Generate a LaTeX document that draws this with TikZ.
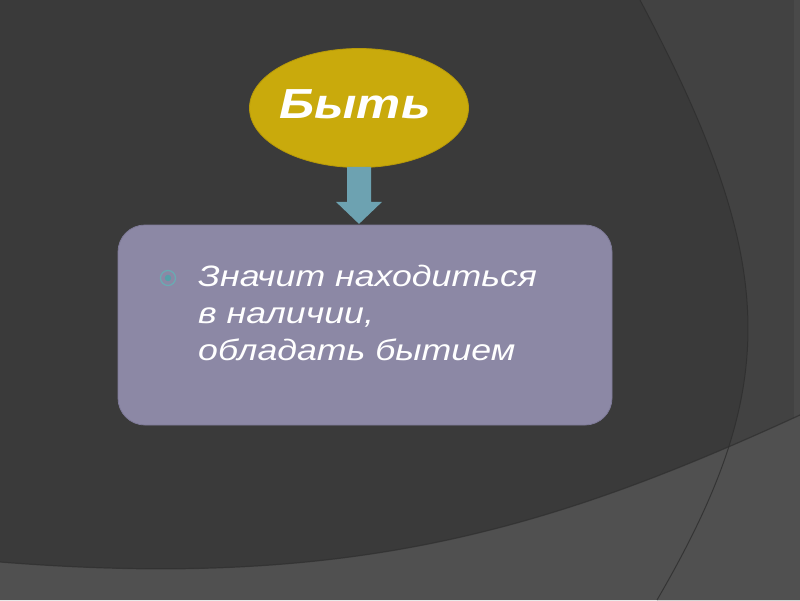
\documentclass[tikz,border=0pt]{standalone}
\usepackage{fontspec}
\newfontfamily\lsans{Liberation Sans}
\usetikzlibrary{shapes.geometric}
\definecolor{bgbase}{HTML}{3A3A3A}
\definecolor{bgright}{HTML}{424242}
\definecolor{bgband}{HTML}{505050}
\definecolor{bgline}{HTML}{2E2E2E}
\definecolor{goldfill}{HTML}{C9AA0C}
\definecolor{golddraw}{HTML}{B89A08}
\definecolor{boxfill}{HTML}{8C88A5}
\definecolor{boxdraw}{HTML}{7E7A98}
\definecolor{arrowfill}{HTML}{6DA2B1}
\definecolor{bulletring}{HTML}{6AAAB2}
\definecolor{bulletdotcol}{HTML}{55A0A8}
\tikzset{
  titlefont/.style={font=\lsans\bfseries\itshape\fontsize{42}{50}\selectfont, text=white},
  bodyfont/.style={font=\lsans\itshape\fontsize{29.5}{36}\selectfont, text=white},
  bodyline/.style={bodyfont, anchor=base west, inner sep=0pt},
}
\newcommand{\widetext}[1]{\scalebox{1.18}[1]{#1}}
\newcommand{\widebody}[1]{\scalebox{1.21}[1]{#1}}
\begin{document}
\begin{tikzpicture}[x=1pt,y=-1pt]
\useasboundingbox (0,0) rectangle (800,600);
% background
\fill[bgbase] (0,0) rectangle (800,600);
\fill[bgright] (640,0) .. controls (781,266) and (781,387) .. (657,600) -- (800,600) -- (800,0) -- cycle;
\fill[bgright!96!white] (794,0) rectangle (800,600);
\fill[bgband] (0,562) .. controls (350,590) and (550,530) .. (800,415) -- (800,600) -- (0,600) -- cycle;
\draw[bgline, line width=1pt, opacity=0.8] (640,0) .. controls (781,266) and (781,387) .. (657,600);
\draw[bgline, line width=1.2pt, opacity=0.7] (0,562) .. controls (350,590) and (550,530) .. (800,415);
% box
\node[draw=boxdraw, line width=0.8pt, fill=boxfill, rounded corners=27pt, minimum width=494pt, minimum height=200pt, inner sep=0pt] (box) at (365,325) {};
% ellipse
\node[ellipse, draw=golddraw, line width=0.8pt, fill=goldfill, minimum width=219pt, minimum height=119pt, inner sep=0pt] (byt) at (359,108) {};
% arrow
\fill[arrowfill] ([xshift=-12pt,yshift=1pt]byt.south) -- ++(24,0) -- ++(0,35) -- ++(11,0) -- ++(-23,22) -- ++(-23,-22) -- ++(11,0) -- cycle;
\node[titlefont, anchor=base, inner sep=0pt] (bytlabel) at (355,118) {\widetext{Быть}};
% bullet
\node[circle, draw=bulletring, line width=1.3pt, minimum size=15pt, inner sep=0pt] (bullet) at (168,278) {};
\node[circle, fill=bulletdotcol, minimum size=6.5pt, inner sep=0pt] (bulletdot) at (bullet.center) {};
% text
\node[bodyline] (l1) at (198,286) {\widebody{Значит находиться}};
\node[bodyline] (l2) at (198,323) {\widebody{в наличии,}};
\node[bodyline] (l3) at (198,360) {\widebody{обладать бытием}};
\end{tikzpicture}
\end{document}
